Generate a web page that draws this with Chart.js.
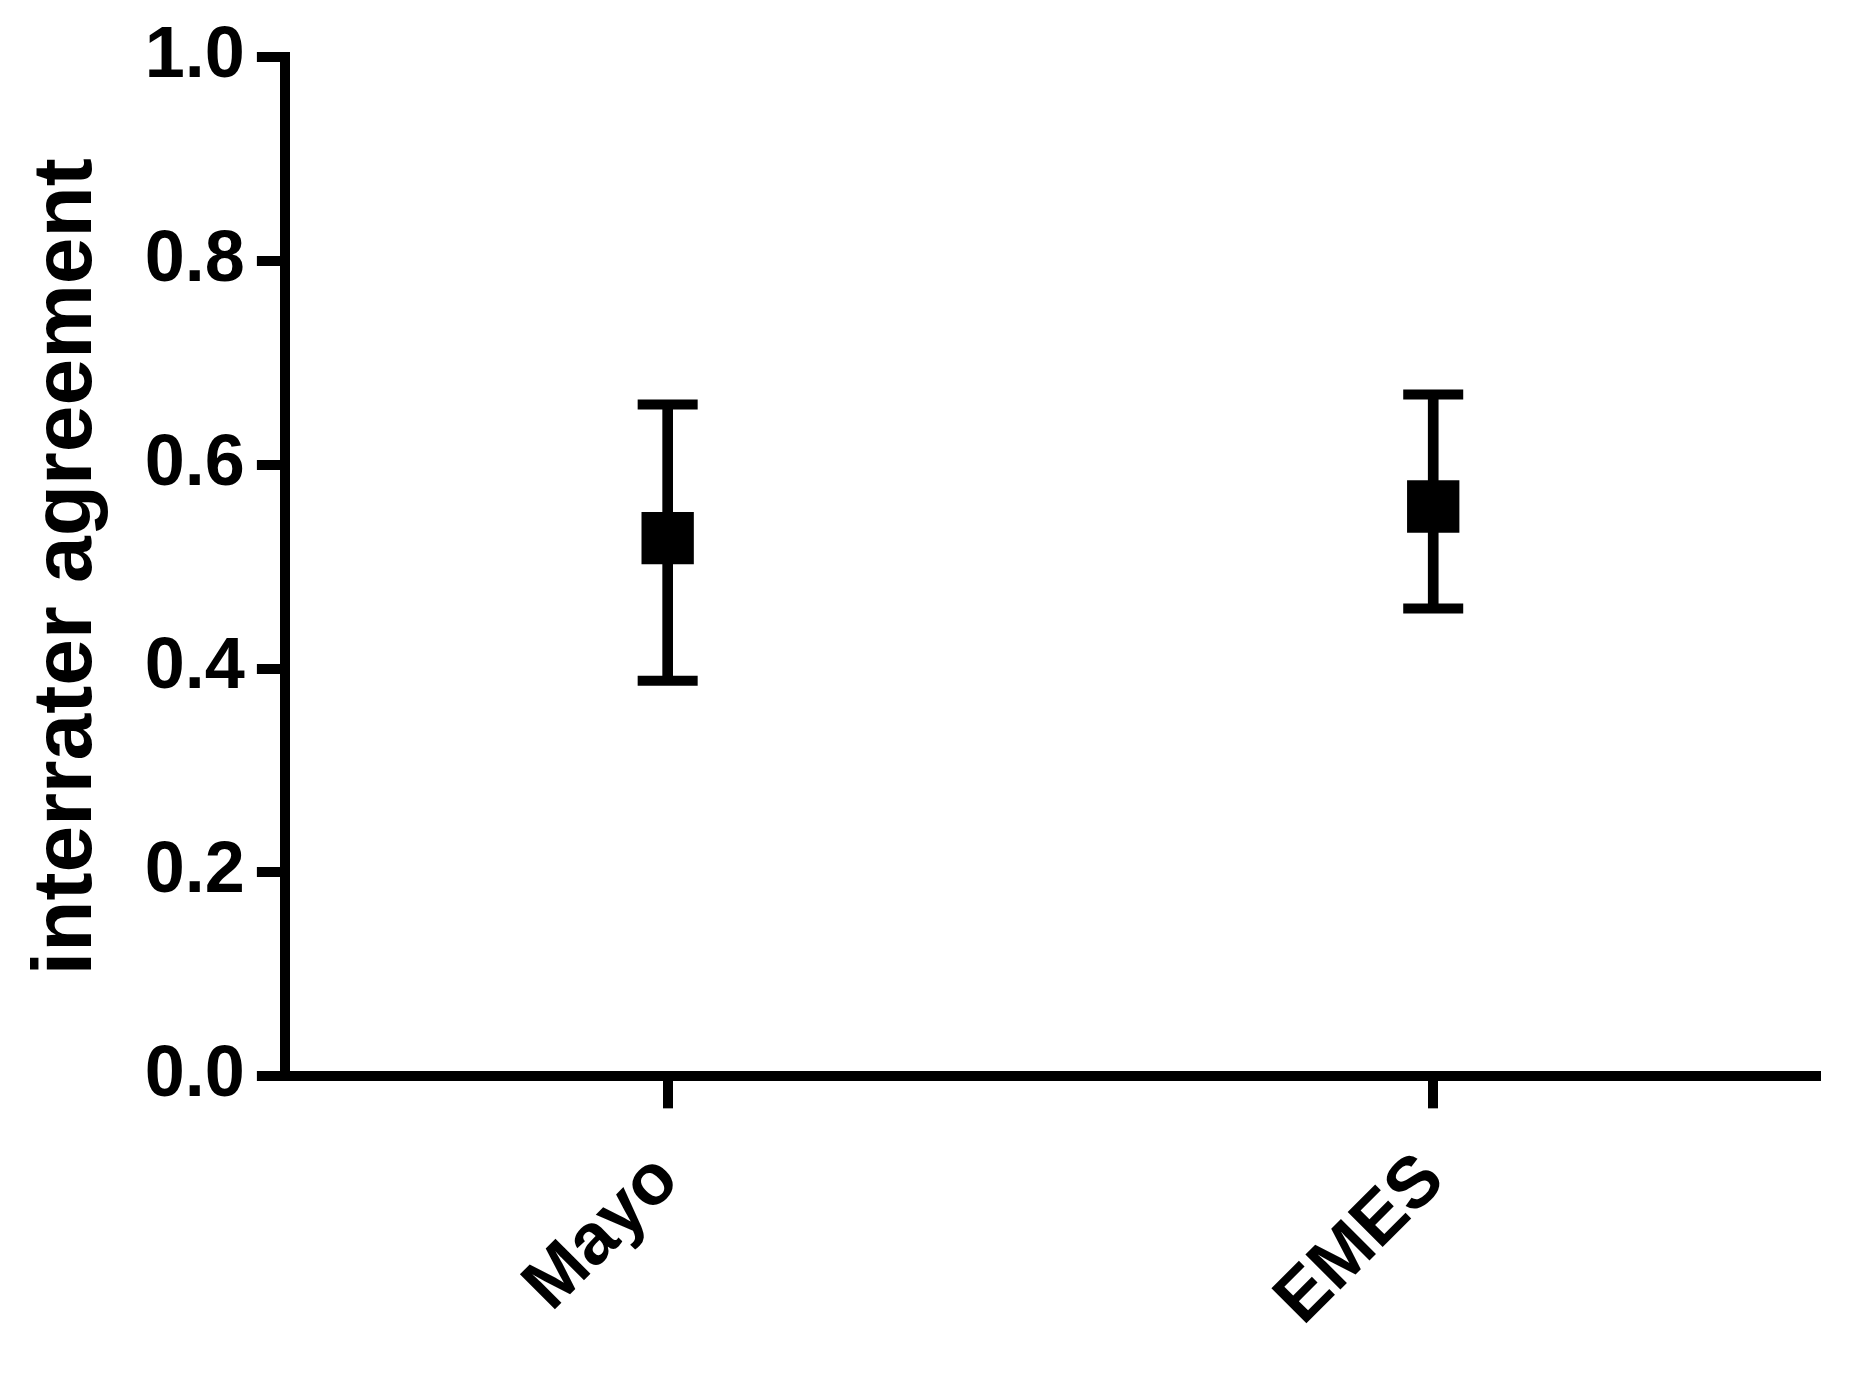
<!DOCTYPE html>
<html>
<head>
<meta charset="utf-8">
<title>interrater agreement</title>
<script src="https://cdn.jsdelivr.net/npm/chart.js@4.4.1/dist/chart.umd.min.js"></script>
<style>
  html, body { margin: 0; padding: 0; background: #fff; }
  #wrap { width: 1856px; height: 1374px; position: relative; }
</style>
</head>
<body>
<div id="wrap"><canvas id="chart"></canvas></div>
<script>
// data
const groups = ["Mayo", "EMES"];
const means = [0.528, 0.559];
const upper = [0.659, 0.669];
const lower = [0.388, 0.459];
const yTicks = [0, 0.2, 0.4, 0.6, 0.8, 1.0];

const FONT = "'Liberation Sans', Arial, Helvetica, sans-serif";

// vertical whisker = floating bar from lower to upper
const whiskers = groups.map((g, i) => [lower[i], upper[i]]);

const ctx = document.getElementById("chart").getContext("2d");

const chart = new Chart(ctx, {
  type: "bar",
  data: {
    labels: groups,
    datasets: [
      {
        type: "line",
        label: "mean",
        data: means,
        showLine: false,
        pointStyle: "rect",
        pointRadius: 37,
        pointHoverRadius: 37,
        pointBackgroundColor: "#000",
        pointBorderWidth: 0,
        order: 0
      },
      {
        type: "line",
        label: "upper",
        data: upper,
        showLine: false,
        pointStyle: "line",
        pointRadius: 30,
        pointHoverRadius: 30,
        pointBorderColor: "#000",
        pointBorderWidth: 10,
        order: 1
      },
      {
        type: "line",
        label: "lower",
        data: lower,
        showLine: false,
        pointStyle: "line",
        pointRadius: 30,
        pointHoverRadius: 30,
        pointBorderColor: "#000",
        pointBorderWidth: 10,
        order: 1
      },
      {
        label: "range",
        data: whiskers,
        backgroundColor: "#000",
        borderWidth: 0,
        barThickness: 10,
        order: 2
      }
    ]
  },
  options: {
    responsive: true,
    maintainAspectRatio: false,
    animation: false,
    events: [],
    layout: { padding: { left: 17, top: 57, right: 39, bottom: 1 } },
    plugins: {
      legend: { display: false },
      tooltip: { enabled: false }
    },
    scales: {
      x: {
        offset: true,
        border: { display: true, color: "#000", width: 10 },
        grid: {
          offset: false,
          drawOnChartArea: false,
          drawTicks: true,
          tickLength: 32,
          color: "#000",
          lineWidth: 10
        },
        ticks: {
          color: "#000",
          autoSkip: false,
          minRotation: 45,
          maxRotation: 45,
          padding: 50,
          font: { family: FONT, size: 72, weight: "bold", lineHeight: 0.4 }
        }
      },
      y: {
        min: 0,
        max: 1,
        afterBuildTicks: (axis) => {
          axis.ticks = yTicks.map(v => ({ value: v }));
        },
        border: { display: true, color: "#000", width: 10 },
        grid: {
          drawOnChartArea: false,
          drawTicks: true,
          tickLength: 28,
          color: "#000",
          lineWidth: 10
        },
        ticks: {
          color: "#000",
          padding: 12,
          callback: (v) => Number(v).toFixed(1),
          font: { family: FONT, size: 72, weight: "bold" }
        },
        title: {
          display: true,
          text: "interrater agreement",
          color: "#000",
          padding: { top: 0, bottom: 15 },
          font: { family: FONT, size: 84, weight: "bold" }
        }
      }
    }
  }
});
</script>
</body>
</html>
